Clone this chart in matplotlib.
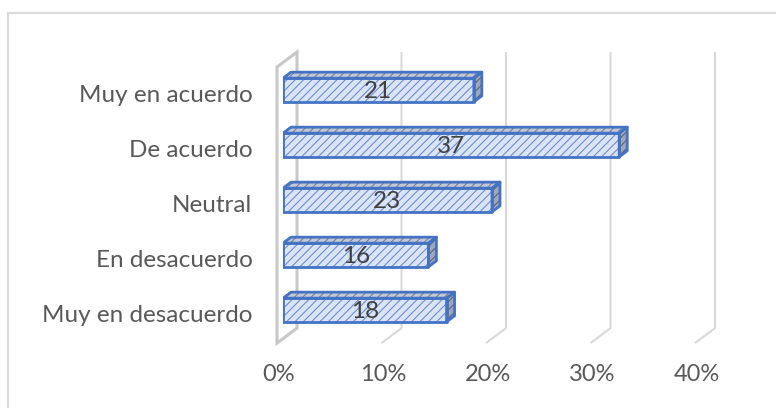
import matplotlib
matplotlib.use("Agg")
import matplotlib.pyplot as plt
import numpy as np
from matplotlib.patches import Polygon
from matplotlib.transforms import ScaledTranslation

# Survey responses (counts) by agreement level, bottom to top
categories = ["Muy en desacuerdo", "En desacuerdo", "Neutral", "De acuerdo", "Muy en acuerdo"]
counts = [18, 16, 23, 37, 21]
tick_values = [0, 10, 20, 30, 40]
tick_labels = ["0%", "10%", "20%", "30%", "40%"]

percent = np.array(counts) / sum(counts) * 100

plt.rcParams["hatch.linewidth"] = 0.8

FONT = "Lato"
TEXT_COLOR = "#595959"
LABEL_COLOR = "#404040"
BAR_EDGE = "#4472C4"
GRID = "#d9d9d9"
WALL = "#c8c8c8"

W, H, DPI = 776, 408, 100
fig = plt.figure(figsize=(W / DPI, H / DPI), dpi=DPI)

# axes frame in pixels (left, top, right, bottom)
ax_l, ax_t, ax_r, ax_b = 283, 52, 753.25, 343
ax = fig.add_axes([ax_l / W, 1 - ax_b / H, (ax_r - ax_l) / W, (ax_b - ax_t) / H])
ax.set_xlim(0, 45)
ax.set_ylim(-0.6, 4.6909)
for s in ax.spines.values():
    s.set_visible(False)
ax.patch.set_visible(False)

px_x = (ax_r - ax_l) / 45.0
px_y = (ax_b - ax_t) / (4.6909 + 0.6)


def depth(d):
    """Offset (data units) for moving d pixels back into the 3-D box."""
    return d / px_x, 0.75 * d / px_y


FLOOR_Y = -0.52
TOP_Y = 4.5
BACK = 14      # back wall depth
FRONT = -6     # front edge of the floor
BAR_D = 8      # bar thickness

bx, by = depth(BACK)
fx, fy = depth(FRONT)

# back-wall gridlines with their floor slants
for v in tick_values[1:]:
    xs = [v + fx, v + bx, v + bx]
    ys = [FLOOR_Y + fy, FLOOR_Y + by, TOP_Y + by]
    ax.plot(xs, ys, color=GRID, lw=1.5, solid_capstyle="butt", zorder=1, clip_on=False)

# left side wall at 0%
wall = Polygon([(0 + fx, FLOOR_Y + fy), (0 + fx, TOP_Y + fy), (0 + bx, TOP_Y + by),
                (0 + bx, FLOOR_Y + by)], closed=True, fill=False,
               edgecolor=WALL, lw=2.2, zorder=1, clip_on=False, joinstyle="miter")
ax.add_patch(wall)

# 3-D bars
h = 0.43
dx, dy = depth(BAR_D)
for i, (v, c) in enumerate(zip(percent, counts)):
    y0, y1 = i - h / 2, i + h / 2
    top = [(0, y1), (v, y1), (v + dx, y1 + dy), (dx, y1 + dy)]
    side = [(v, y0), (v, y1), (v + dx, y1 + dy), (v + dx, y0 + dy)]
    front = [(0, y0), (v, y0), (v, y1), (0, y1)]
    for pts, fc, hc in [(top, "#c2c8d6", "#7a8194"),
                        (side, "#a0a7b6", "#5c6476"),
                        (front, "#dbe4f5", "#6a8fd4")]:
        ax.add_patch(Polygon(pts, closed=True, facecolor=fc, edgecolor=hc,
                             hatch="////", lw=0, zorder=3))
        ax.add_patch(Polygon(pts, closed=True, fill=False, edgecolor=BAR_EDGE,
                             lw=2.0, zorder=4, joinstyle="round"))
    ax.text(v / 2, i - 0.02, str(c), ha="center", va="center", fontsize=17.5,
            family=FONT, color=LABEL_COLOR, zorder=5)

# category labels
ax.set_yticks(range(len(categories)))
ax.set_yticklabels(categories, fontsize=17.5, family=FONT, color=TEXT_COLOR)
ax.tick_params(axis="y", length=0, pad=22)
for lab in ax.get_yticklabels():
    lab.set_transform(lab.get_transform() + ScaledTranslation(0, -4 / DPI, fig.dpi_scale_trans))

# percentage axis labels along the front of the floor
ax.set_xticks(tick_values)
ax.set_xticklabels(tick_labels, fontsize=17, family=FONT, color=TEXT_COLOR)
ax.tick_params(axis="x", length=0, pad=15)
for lab in ax.get_xticklabels():
    lab.set_transform(lab.get_transform() + ScaledTranslation(-4 / DPI, 0, fig.dpi_scale_trans))

# chart border
fig.add_artist(plt.Line2D([8 / W, 1], [1 - 13 / H, 1 - 13 / H], transform=fig.transFigure,
                          color="#d9d9d9", lw=1.5))
fig.add_artist(plt.Line2D([8 / W, 8 / W], [0, 1 - 13 / H], transform=fig.transFigure,
                          color="#d9d9d9", lw=1.5))

fig.savefig("out.png", dpi=DPI)
